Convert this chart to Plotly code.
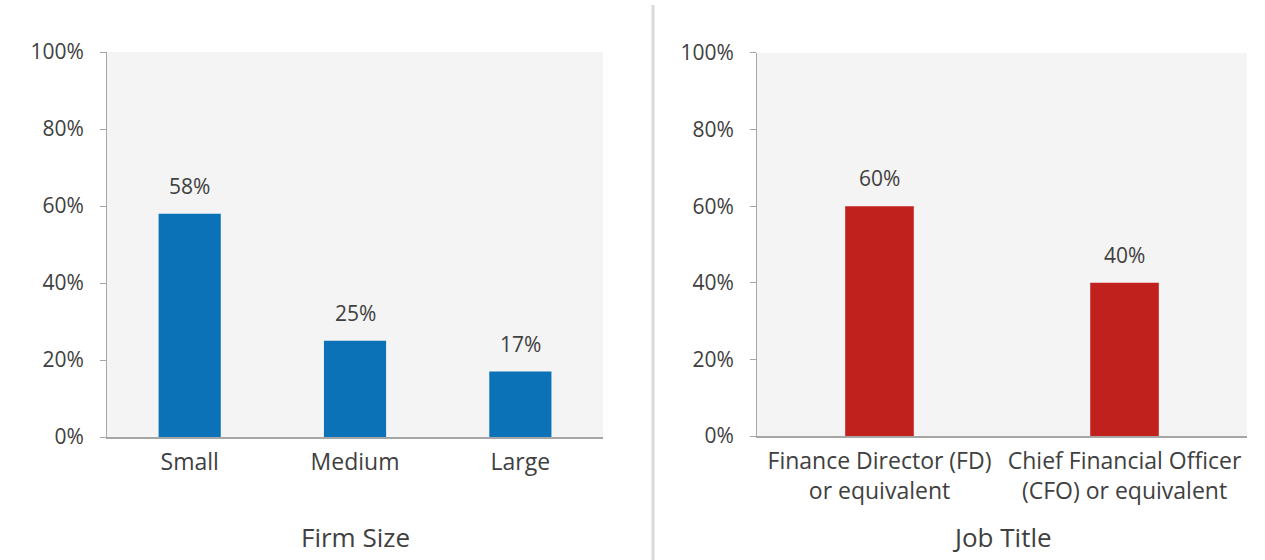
import plotly.graph_objects as go

# Data
firm_sizes = ["Small", "Medium", "Large"]
firm_values = [0.58, 0.25, 0.17]
job_titles = ["Finance Director (FD)<br>or equivalent", "Chief Financial Officer<br>(CFO) or equivalent"]
job_values = [0.60, 0.40]
y_ticks = [0, 0.2, 0.4, 0.6, 0.8, 1.0]
y_tick_labels = ["0%", "20%", "40%", "60%", "80%", "100%"]

BLUE = "#0b72b7"
RED = "#c1211d"
TXT = "#404040"
AX = "#a6a6a6"
FONT = "Open Sans"

fig = go.Figure()
fig.add_trace(go.Bar(x=firm_sizes, y=firm_values, marker_color=BLUE, marker_line_width=0, width=0.376,
                     xaxis="x", yaxis="y", showlegend=False, hoverinfo="skip"))
fig.add_trace(go.Bar(x=job_titles, y=job_values, marker_color=RED, marker_line_width=0, width=0.28,
                     xaxis="x2", yaxis="y2", showlegend=False, hoverinfo="skip"))

annotations = []
for c, v in zip(firm_sizes, firm_values):
    annotations.append(dict(x=c, y=v, xref="x", yref="y", text=f"{round(v*100)}%", yanchor="middle",
                            xanchor="center", showarrow=False, yshift=28,
                            font=dict(size=21, color=TXT, family=FONT)))
for c, v in zip(job_titles, job_values):
    annotations.append(dict(x=c, y=v, xref="x2", yref="y2", text=f"{round(v*100)}%", yanchor="middle",
                            xanchor="center", showarrow=False, yshift=28,
                            font=dict(size=21, color=TXT, family=FONT)))
annotations.append(dict(x=(0.0846 + 0.4767) / 2, y=1 - 537 / 560, xref="paper", yref="paper",
                        xanchor="center", yanchor="middle", text="Firm Size", showarrow=False,
                        font=dict(size=26, color=TXT, family=FONT)))
annotations.append(dict(x=(0.5984 + 0.9858) / 2, y=1 - 537 / 560, xref="paper", yref="paper",
                        xanchor="center", yanchor="middle", text="Job Title", showarrow=False,
                        font=dict(size=26, color=TXT, family=FONT)))

yax = dict(range=[0, 1.0], tickvals=y_ticks, ticktext=y_tick_labels, showgrid=False, zeroline=False,
           showline=True, linecolor=AX, linewidth=1, ticks="outside", ticklen=6, tickcolor=AX,
           ticklabelstandoff=12, tickfont=dict(size=21, color=TXT, family=FONT), fixedrange=True,
           automargin=False)
xax = dict(showgrid=False, zeroline=False, showline=True, linecolor=AX, linewidth=1.5, ticks="",
           tickfont=dict(size=23, color=TXT, family=FONT), ticklabelstandoff=4, fixedrange=True,
           automargin=False)

fig.update_layout(
    width=1265, height=560,
    margin=dict(l=0, r=0, t=0, b=0, pad=0, autoexpand=False),
    paper_bgcolor="white",
    plot_bgcolor="#f4f4f4",
    font=dict(family=FONT, color=TXT),
    xaxis=dict(domain=[0.0846, 0.4767], anchor="y", **xax),
    yaxis=dict(domain=[0.2196, 0.9071], anchor="x", **yax),
    xaxis2=dict(domain=[0.5984, 0.9858], anchor="y2", **xax),
    yaxis2=dict(domain=[0.2214, 0.9054], anchor="x2", **yax),
    annotations=annotations,
    shapes=[dict(type="line", xref="paper", yref="paper", x0=653 / 1265, x1=653 / 1265,
                 y0=0, y1=1 - 5 / 560, line=dict(color="#d9d9d9", width=3))],
)

fig.write_html("out.html")
